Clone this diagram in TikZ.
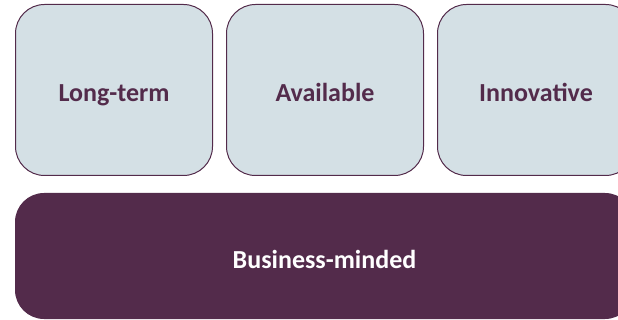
\documentclass[tikz,border=0pt]{standalone}
\usepackage{fontspec}
\setmainfont{Carlito}
\usetikzlibrary{positioning}

\definecolor{plum}{HTML}{532B4B}
\definecolor{palegrey}{HTML}{D4E0E5}

\begin{document}
\begin{tikzpicture}[x=1pt,y=-1pt,
    topbox/.style={draw=plum, line width=1pt, fill=palegrey, rounded corners=29pt,
        minimum width=197pt, minimum height=171pt, text=plum,
        text height=24pt, text depth=0pt,
        font=\fontsize{26}{30}\selectfont\bfseries},
    basebox/.style={fill=plum, rounded corners=29pt,
        minimum width=619pt, minimum height=126pt, text=white,
        text height=26pt, text depth=0pt,
        font=\fontsize{26}{30}\selectfont\bfseries}]

% Frame of the picture
\useasboundingbox (0,0) rectangle (618,320);
\clip (0,0) rectangle (618,320);

% Top row
\node[topbox] (longterm) at (114,90) {Long-term};
\node[topbox, right=13pt of longterm] (available) {Available};
\node[topbox, right=13pt of available] (innovative) {Innovative};

% Bottom bar
\node[basebox] (business) at (324.5,256) {Business-minded};

\end{tikzpicture}
\end{document}
